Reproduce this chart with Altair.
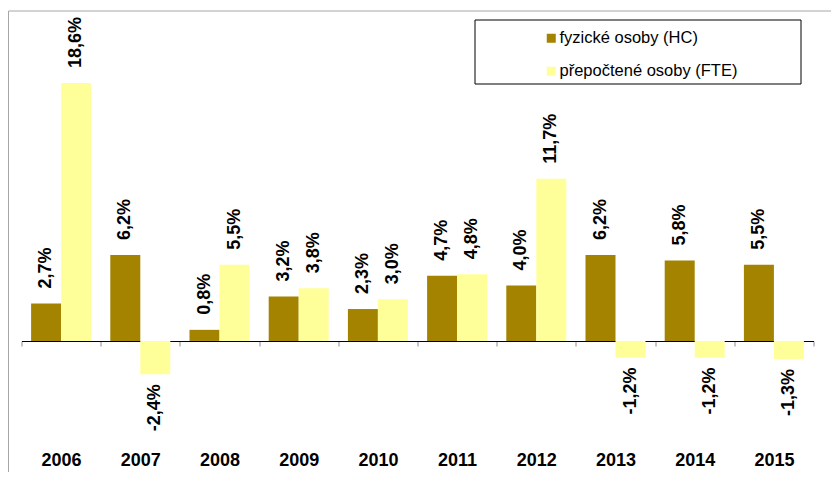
import altair as alt
import pandas as pd

years = ["2006", "2007", "2008", "2009", "2010", "2011", "2012", "2013", "2014", "2015"]
series = ["fyzické osoby (HC)", "přepočtené osoby (FTE)"]
hc = [2.7, 6.2, 0.8, 3.2, 2.3, 4.7, 4.0, 6.2, 5.8, 5.5]
fte = [18.6, -2.4, 5.5, 3.8, 3.0, 4.8, 11.7, -1.2, -1.2, -1.3]
colors = ["#A38300", "#FFFF99"]

rows = []
for i, y in enumerate(years):
    for s, v in zip(series, (hc[i], fte[i])):
        rows.append({"rok": y, "serie": s, "hodnota": v,
                     "popis": f"{v:.1f}".replace(".", ",") + "%"})
df = pd.DataFrame(rows)

FONT = "Liberation Sans"
W, H = 792, 416

xenc = alt.X("rok:N", sort=years,
             scale=alt.Scale(paddingInner=0, paddingOuter=0),
             axis=alt.Axis(title=None, labelAngle=0, labelFont=FONT, labelFontSize=18,
                           labelFontWeight="bold", labelColor="black",
                           domainColor="black", domainWidth=1, tickColor="#8c8c8c",
                           tickSize=5, tickBand="extent", offset=-97,
                           labelPadding=105, grid=False))
xoff = alt.XOffset("serie:N", sort=series,
                   scale=alt.Scale(paddingOuter=0.32, paddingInner=0))
yscale = alt.Scale(domain=[-7, 23], nice=False, zero=True)

base = alt.Chart(df)

frame = alt.Chart(pd.DataFrame({"a": [0]})).mark_rect(
    fillOpacity=0, stroke="#a6a6a6", strokeWidth=1
).encode(x=alt.value(-13), x2=alt.value(830), y=alt.value(-11), y2=alt.value(480))

bars = base.mark_bar().encode(
    x=xenc,
    xOffset=xoff,
    y=alt.Y("hodnota:Q", scale=yscale, axis=None),
    color=alt.Color("serie:N", sort=series,
                    scale=alt.Scale(domain=series, range=colors),
                    legend=alt.Legend(title=None, orient="none", legendX=521.5, legendY=8,
                                      symbolType="square", symbolSize=81,
                                      symbolStrokeWidth=0, labelFont=FONT,
                                      labelFontSize=16.5, labelColor="black",
                                      labelLimit=0,
                                      labelOffset=0, padding=0, rowPadding=16)),
)

pos_labels = base.transform_filter("datum.hodnota >= 0").mark_text(
    angle=270, align="left", baseline="middle", dx=15,
    font=FONT, fontSize=18, fontWeight="bold", color="black"
).encode(x=alt.X("rok:N", sort=years), xOffset=xoff,
         y=alt.Y("hodnota:Q", scale=yscale), text="popis:N")

neg_labels = base.transform_filter("datum.hodnota < 0").mark_text(
    angle=270, align="right", baseline="middle", dx=-10,
    font=FONT, fontSize=18, fontWeight="bold", color="black"
).encode(x=alt.X("rok:N", sort=years), xOffset=xoff,
         y=alt.Y("hodnota:Q", scale=yscale), text="popis:N")

legend_box = alt.Chart(pd.DataFrame({"a": [0]})).mark_rect(
    fill="white", stroke="black", strokeWidth=1
).encode(x=alt.value(453.5), x2=alt.value(779.5), y=alt.value(-2), y2=alt.value(62))

chart = alt.layer(frame, bars, pos_labels, neg_labels, legend_box).properties(
    width=W, height=H,
    autosize=alt.AutoSizeParams(type="none"),
    padding={"left": 13.5, "top": 14, "right": 17, "bottom": 34},
).configure_view(stroke=None)

chart.save("out.html", embed_options={"renderer": "svg", "actions": False})
